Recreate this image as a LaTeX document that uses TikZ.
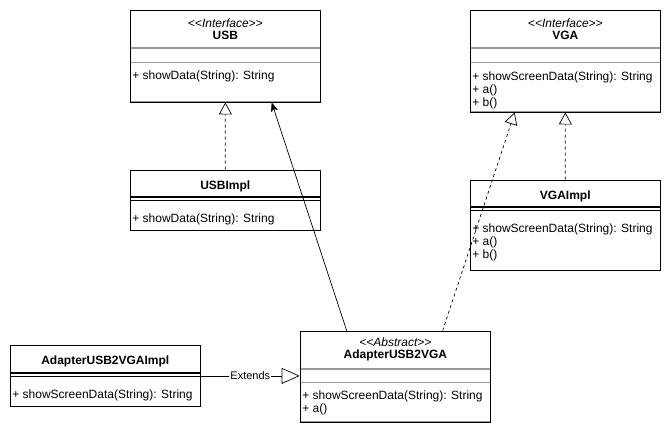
\documentclass[tikz,border=0pt]{standalone}
\usepackage{fontspec}
\setmainfont{Liberation Sans}
\usetikzlibrary{fit,positioning,arrows.meta}

\begin{document}
\begin{tikzpicture}[x=1pt, y=1pt, line width=0.7pt]
      \tikzstyle{part}=[rectangle, draw=black!40, minimum width=190pt, inner sep=0pt, node distance=0pt, font=\fontsize{12}{12}\selectfont, align=center]
      \tikzstyle{implpart}=[rectangle, draw=black, line width=0.6pt, minimum width=190pt, inner sep=0pt, node distance=0pt, font=\fontsize{12}{12}\selectfont, align=center]
      \tikzstyle{box}=[rectangle, draw=black, inner sep=0pt]
      \tikzstyle{member}=[align=left, inner sep=0pt, font=\fontsize{12}{13}\selectfont]
      \tikzstyle{realize}=[dash pattern=on 3pt off 3pt, -{Triangle[open, length=12pt, width=13pt]}]
      \tikzstyle{assoc}=[-{Stealth[length=9pt, width=7pt, inset=2pt]}]
      \tikzstyle{extends}=[-{Triangle[open, length=18pt, width=16pt]}]
      \tikzstyle{lbl}=[fill=white, inner sep=1pt, font=\fontsize{11}{11}\selectfont];

      \useasboundingbox (0,0) rectangle (671,-431);

      % interfaces
      \node[part, minimum height=37pt, anchor=north west] (usbhead) at (130,-10) {\textit{<{}<Interface>{}>}\\\textbf{USB}};
      \node[part, minimum height=14pt] (usbattr) [below=of usbhead] {};
      \node[part, minimum height=39pt] (usbmeth) [below=of usbattr] {};
      \node[member, below right=8pt and 2pt of usbmeth.north west] (usbops) {+ showData(String): String};

      \node[part, minimum height=37pt, anchor=north west] (vgahead) at (470,-10) {\textit{<{}<Interface>{}>}\\\textbf{VGA}};
      \node[part, minimum height=14pt] (vgaattr) [below=of vgahead] {};
      \node[part, minimum height=49pt] (vgameth) [below=of vgaattr] {};
      \node[member, below right=9pt and 2pt of vgameth.north west] (vgaops) {+ showScreenData(String): String\\+ a()\\+ b()};

      % implementations
      \node[implpart, minimum height=26pt, text height=12pt, text depth=0pt, anchor=north west] (usbimplhead) at (130,-170) {\textbf{USBImpl}};
      \node[implpart, minimum height=3pt] (usbimplattr) [below=of usbimplhead] {};
      \node[implpart, minimum height=30pt] (usbimplmeth) [below=of usbimplattr] {};
      \node[member, below right=13pt and 2pt of usbimplmeth.north west] (usbimplops) {+ showData(String): String};

      \node[implpart, minimum height=26pt, text height=12pt, text depth=0pt, anchor=north west] (vgaimplhead) at (470,-180) {\textbf{VGAImpl}};
      \node[implpart, minimum height=3pt] (vgaimplattr) [below=of vgaimplhead] {};
      \node[implpart, minimum height=60pt] (vgaimplmeth) [below=of vgaimplattr] {};
      \node[member, below right=13pt and 2pt of vgaimplmeth.north west] (vgaimplops) {+ showScreenData(String): String\\+ a()\\+ b()};

      % adapter
      \node[part, minimum height=37pt, anchor=north west] (adapterhead) at (300,-331) {\textit{<{}<Abstract>{}>}\\\textbf{AdapterUSB2VGA}};
      \node[part, minimum height=13pt] (adapterattr) [below=of adapterhead] {};
      \node[part, minimum height=39pt] (adaptermeth) [below=of adapterattr] {};
      \node[member, below right=8pt and 2pt of adaptermeth.north west] (adapterops) {+ showScreenData(String): String\\+ a()};

      \node[implpart, minimum height=27pt, text height=11pt, text depth=0pt, anchor=north west] (adapterimplhead) at (10,-345) {\textbf{AdapterUSB2VGAImpl}};
      \node[implpart, minimum height=3pt] (adapterimplattr) [below=of adapterimplhead] {};
      \node[implpart, minimum height=30pt] (adapterimplmeth) [below=of adapterimplattr] {};
      \node[member, below right=13pt and 2pt of adapterimplmeth.north west] (adapterimplops) {+ showScreenData(String): String};

      \node[box, fit=(usbhead) (usbmeth)] (usb) {};
      \node[box, fit=(vgahead) (vgameth)] (vga) {};
      \node[box, fit=(usbimplhead) (usbimplmeth)] (usbimpl) {};
      \node[box, fit=(vgaimplhead) (vgaimplmeth)] (vgaimpl) {};
      \node[box, fit=(adapterhead) (adaptermeth)] (adapter) {};
      \node[box, fit=(adapterimplhead) (adapterimplmeth)] (adapterimpl) {};

      \path (usbimpl.north) edge [realize] (usb.south);
      \path (vgaimpl.north) edge [realize] (vga.south);
      \path ([xshift=143pt]adapter.north west) edge [realize] ([xshift=45pt]vga.south west);
      \path ([xshift=47pt]adapter.north west) edge [assoc] ([xshift=142pt]usb.south west);
      \path (adapterimpl.east) edge [extends] node[lbl, midway] {Extends} (adapterimpl.east -| adapter.west);
\end{tikzpicture}
\end{document}
